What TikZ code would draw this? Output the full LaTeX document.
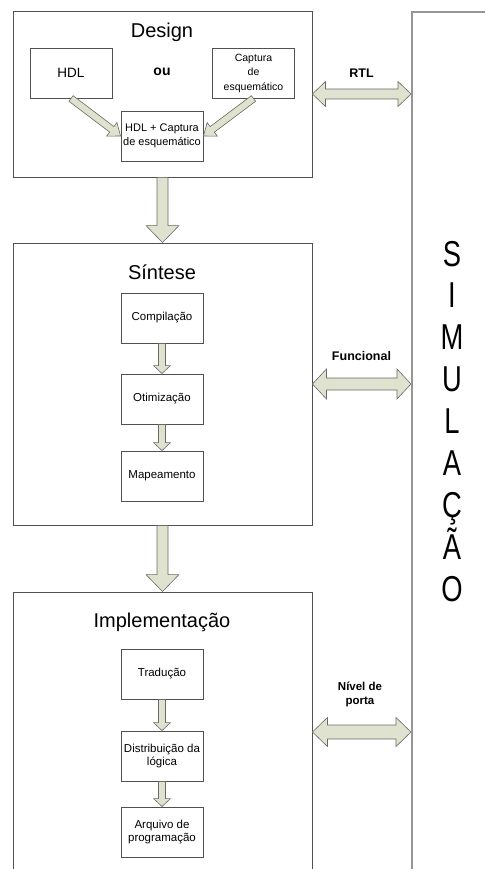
\documentclass[tikz,border=0pt]{standalone}
\usepackage{fontspec}
\setmainfont{Liberation Sans}
\usetikzlibrary{calc}

\definecolor{boxline}{RGB}{80,80,80}
\definecolor{simline}{RGB}{150,150,150}
\definecolor{arrowfill}{RGB}{222,226,207}
\definecolor{arrowline}{RGB}{105,108,98}

\tikzset{
  stage/.style={draw=boxline, line width=0.9pt, minimum width=299pt, inner sep=0pt},
  stepbox/.style={draw=boxline, line width=0.9pt, minimum width=82pt, minimum height=50pt,
    inner sep=1pt, align=center, font=\fontsize{11.5}{13.8}\selectfont},
  stagetitle/.style={anchor=base, font=\fontsize{20}{24}\selectfont},
  levellabel/.style={font=\bfseries\fontsize{12.5}{13.8}\selectfont, align=center},
  simletter/.style={anchor=base, font=\fontsize{36}{40}\selectfont},
  fatstyle/.style={fill=arrowfill, draw=arrowline, line width=0.6pt, line join=miter}
}

% single block arrow: start, end, shaft half width, head half width, head length
\newcommand\fatarrow[5]{%
  \coordinate (fa-h) at ($(#2)!#5!(#1)$);
  \filldraw[fatstyle] ($(#1)!#3!90:(#2)$) -- ($(fa-h)!#3!90:(#2)$)
    -- ($(fa-h)!#4!90:(#2)$) -- (#2) -- ($(fa-h)!#4!-90:(#2)$)
    -- ($(fa-h)!#3!-90:(#2)$) -- ($(#1)!#3!-90:(#2)$) -- cycle;}

% double block arrow: start, end, shaft half width, head half width, head length
\newcommand\fatdoublearrow[5]{%
  \coordinate (fa-a) at ($(#1)!#5!(#2)$);
  \coordinate (fa-b) at ($(#2)!#5!(#1)$);
  \filldraw[fatstyle] (#1) -- ($(fa-a)!#4!90:(#2)$) -- ($(fa-a)!#3!90:(#2)$)
    -- ($(fa-b)!#3!90:(#2)$) -- ($(fa-b)!#4!90:(#2)$) -- (#2)
    -- ($(fa-b)!#4!-90:(#2)$) -- ($(fa-b)!#3!-90:(#2)$)
    -- ($(fa-a)!#3!-90:(#2)$) -- ($(fa-a)!#4!-90:(#2)$) -- cycle;}

\begin{document}
\begin{tikzpicture}[x=1pt, y=-1pt]
  \clip (0,0) rectangle (485,869);
  \fill[white] (0,0) rectangle (485,869);

  % the three stages
  \node[stage, minimum height=166pt] (design) at (162.5,94) {};
  \node[stage, minimum height=282pt] (sintese) at (162.5,384) {};
  \node[stage, minimum height=280pt] (impl) at (162.5,732) {};

  % simulation column, open to the right and below
  \node[draw=simline, line width=1.6pt, minimum width=120pt, minimum height=880pt,
        inner sep=0pt, anchor=north west] (sim) at (411,11) {};

  \node[stagetitle] (t-design) at (162,37.3) {Design};
  \node[stagetitle] (t-sintese) at (162,279.5) {Síntese};
  \node[stagetitle] (t-impl) at (162,627) {Implementação};

  % design entry
  \node[stepbox, font=\fontsize{13.5}{16}\selectfont] (hdl) at (71,73) {HDL};
  \node[stepbox, font=\fontsize{10.5}{14.5}\selectfont] (cap) at (253.5,73) {Captura\\de\\esquemático};
  \node[font=\bfseries\fontsize{14}{16}\selectfont, anchor=base] (ou) at (162,75.7) {ou};
  \node[stepbox, font=\fontsize{11}{14}\selectfont] (hc) at (162,136) {HDL + Captura\\de esquemático};

  % synthesis steps
  \node[stepbox] (comp) at (162,318) {Compilação};
  \node[stepbox] (otim) at (162,399) {Otimização};
  \node[stepbox] (mapa) at (162,476) {Mapeamento};

  % implementation steps
  \node[stepbox] (trad) at (162,674) {Tradução};
  \node[stepbox] (dist) at (162,756) {Distribuição da\\lógica};
  \node[stepbox] (arq) at (162,832) {Arquivo de\\programação};

  % arrows inside the stages
  \fatarrow{hdl.south}{hc.west}{3.5pt}{8.5pt}{11pt}
  \fatarrow{cap.south}{hc.east}{3.5pt}{8.5pt}{11pt}
  \fatarrow{comp.south}{otim.north}{3.5pt}{8.5pt}{8pt}
  \fatarrow{otim.south}{mapa.north}{3.5pt}{8.5pt}{8pt}
  \fatarrow{trad.south}{dist.north}{3.5pt}{8.5pt}{8pt}
  \fatarrow{dist.south}{arq.north}{3.5pt}{8.5pt}{8pt}

  % arrows between the stages
  \fatarrow{design.south}{sintese.north}{5.5pt}{16.5pt}{17pt}
  \fatarrow{sintese.south}{impl.north}{5.5pt}{16.5pt}{17pt}

  % links to simulation
  \coordinate (rtl-end) at (design.east -| sim.west);
  \coordinate (fun-end) at (sintese.east -| sim.west);
  \coordinate (gate-end) at (impl.east -| sim.west);
  \fatdoublearrow{design.east}{rtl-end}{5pt}{12.5pt}{13pt}
  \fatdoublearrow{sintese.east}{fun-end}{6pt}{15pt}{14pt}
  \fatdoublearrow{impl.east}{gate-end}{7pt}{14.5pt}{15pt}

  \node[levellabel, anchor=base] (l-rtl) at (361.5,77.3) {RTL};
  \node[levellabel, anchor=base] (l-fun) at (361.5,360.7) {Funcional};
  \node[levellabel, font=\bfseries\fontsize{11.5}{13.5}\selectfont] (l-gate) at (360,694.5) {Nível de\\porta};

  % vertical title of the simulation column
  \foreach \l [count=\i] in {S,I,M,U,L,A,Ç,Ã,O}
    \node[simletter] (sim-\i) at (452,{266+41.9*(\i-1)}) {\scalebox{0.76}[1]{\l}};
\end{tikzpicture}
\end{document}
